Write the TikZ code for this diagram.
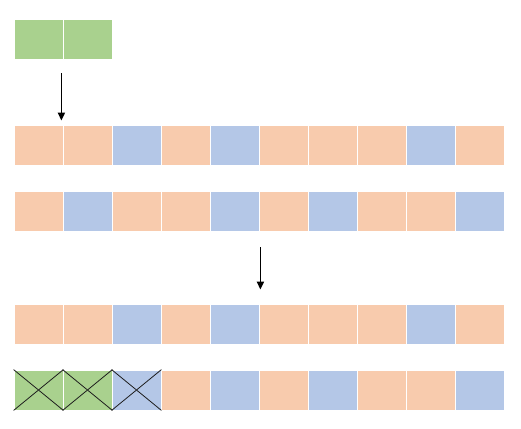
\documentclass[tikz,border=0pt]{standalone}
\usetikzlibrary{arrows.meta, positioning}
\definecolor{CellO}{RGB}{248,203,173}
\definecolor{CellB}{RGB}{180,199,231}
\definecolor{CellG}{RGB}{169,209,142}
\definecolor{CrossGray}{RGB}{30,30,30}

\begin{document}
\begin{tikzpicture}[x=1pt, y=-1pt,
    cell/.style={rectangle, minimum width=49pt, minimum height=40pt, inner sep=0pt, draw=white, line width=0.8pt},
    arrow/.style={-{Triangle[length=8pt, width=7pt]}, line width=1.8pt}]
  \useasboundingbox[fill=white] (0,0) rectangle (521,428);
  % block to insert
  \node[cell, fill=CellG] (g1) at (38.5,39) {};
  \node[cell, fill=CellG, right=0pt of g1] (g2) {};
  % rows before and after
  \foreach \c [count=\i] in {O,O,B,O,B,O,O,O,B,O} {
    \node[cell, fill=Cell\c] (a\i) at (-10.5+49*\i,145) {};
    \node[cell, fill=Cell\c] (c\i) at (-10.5+49*\i,324) {};
  }
  \foreach \c [count=\i] in {O,B,O,O,B,O,B,O,O,B}
    \node[cell, fill=Cell\c] (b\i) at (-10.5+49*\i,211) {};
  \foreach \c [count=\i] in {G,G,B,O,B,O,B,O,O,B}
    \node[cell, fill=Cell\c] (d\i) at (-10.5+49*\i,390) {};
  % crossed out cells
  \foreach \i in {1,2,3}
    \draw[CrossGray, line width=0.8pt] (d\i.north west) -- (d\i.south east) (d\i.south west) -- (d\i.north east);
  % arrows
  \draw[arrow] ([xshift=-2pt, yshift=-14pt]g1.south east) -- ([xshift=-2pt, yshift=4pt]a1.north east);
  \draw[arrow] ([xshift=1pt, yshift=-16pt]b5.south east) -- ([xshift=1pt, yshift=14pt]c5.north east);
\end{tikzpicture}
\end{document}
